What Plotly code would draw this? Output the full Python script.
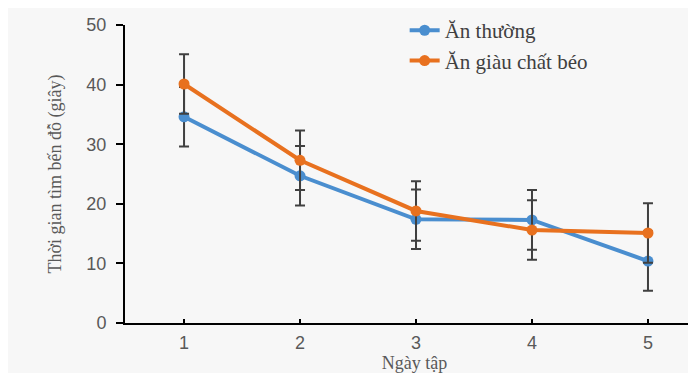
import plotly.graph_objects as go

days = [1, 2, 3, 4, 5]
an_thuong = [34.6, 24.7, 17.4, 17.3, 10.4]
an_giau = [40.1, 27.3, 18.8, 15.6, 15.1]
err_thuong = [5, 5, 5, 5, 5]
err_giau = [5, 5, 5, 5, 5]
names = ["Ăn thường", "Ăn giàu chất béo"]
y_ticks = [0, 10, 20, 30, 40, 50]

BLUE = "#4A8ECF"
ORANGE = "#E8711F"
ERR = "#404040"

fig = go.Figure()
for vals, errs, name, col in [(an_thuong, err_thuong, names[0], BLUE),
                              (an_giau, err_giau, names[1], ORANGE)]:
    fig.add_trace(go.Scatter(
        x=days, y=vals, name=name, mode="lines+markers",
        line=dict(color=col, width=4),
        marker=dict(color=col, size=11),
        error_y=dict(type="data", array=errs, visible=True, color=ERR,
                     thickness=2, width=5),
    ))

fig.update_layout(
    width=696, height=373,
    margin=dict(l=117, r=0, t=17, b=58, autoexpand=False),
    paper_bgcolor="#f7f7f7",
    plot_bgcolor="#f7f7f7",
    legend=dict(x=0.483, y=1.05, xanchor="left", yanchor="top",
                bgcolor="rgba(0,0,0,0)", tracegroupgap=0,
                font=dict(family="Liberation Serif", size=21, color="#404040")),
    xaxis=dict(range=[0.491, 5.483], tickvals=days, ticktext=[str(d) for d in days],
               showline=True, linecolor="black", linewidth=2,
               ticks="inside", ticklen=4, tickwidth=2, tickcolor="black",
               showgrid=False, zeroline=False, automargin=False,
               ticklabelstandoff=2,
               tickfont=dict(family="Liberation Sans", size=18, color="#595959"),
               title=dict(text="Ngày tập", standoff=0,
                          font=dict(family="Liberation Serif", size=18, color="#595959"))),
    yaxis=dict(range=[0, 50], tickvals=y_ticks,
               showline=True, linecolor="black", linewidth=2,
               ticks="outside", ticklen=7, tickwidth=2, tickcolor="black",
               showgrid=False, zeroline=False, automargin=False,
               ticklabelstandoff=6,
               tickfont=dict(family="Liberation Sans", size=18, color="#595959"),
               title=dict(text="Thời gian tìm bến đỗ (giây)", standoff=20,
                          font=dict(family="Liberation Serif", size=18, color="#595959"))),
)

fig.write_html("out.html")
